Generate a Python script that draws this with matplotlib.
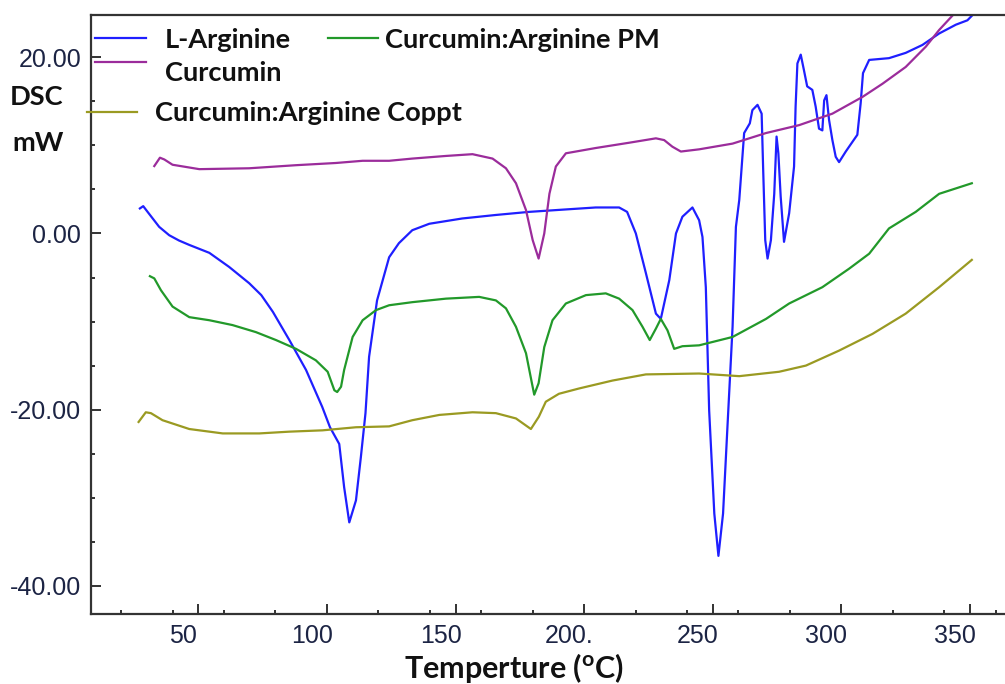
import matplotlib
matplotlib.use("Agg")

import matplotlib.pyplot as plt
import matplotlib.transforms as mtransforms
from matplotlib.lines import Line2D
import numpy as np

# figure size in pixels (dpi 100)
W, H = 1005, 684

# series (temperature in C, heat flow in mW)
arg_t = [27.3, 28.6, 30.3, 34.8, 38.7, 42.5, 46.5, 54.3, 62.0, 69.8, 74.5, 79.0, 85.4, 91.9,
         98.2, 101.2, 104.8, 106.7, 108.7, 111.3, 113.2, 115.0, 116.4, 119.5, 124.2,
         128.0, 133.2, 139.8, 152.6, 165.7, 178.6, 191.5, 204.5, 213.6, 216.7, 220.1,
         224.0, 227.9, 229.8, 233.1, 235.7, 238.2, 242.1, 244.7, 246.0, 247.3, 248.6,
         250.6, 252.2, 254.0, 255.7, 257.7, 259.0, 260.3, 262.2, 264.4, 265.4, 267.4,
         269.0, 269.6, 270.4, 271.3, 272.6, 273.9, 274.8, 275.5, 276.4, 277.7, 279.7,
         281.6, 282.2, 282.9, 284.2, 285.4, 286.7, 288.7, 290.0, 291.3, 292.6, 293.3,
         294.2, 295.2, 296.5, 297.8, 299.1, 301.7, 304.3, 306.2, 307.5, 308.4, 310.8,
         318.5, 325.0, 331.5, 338.0, 344.5, 349.0, 351.0]
arg_y = [2.84, 3.1, 2.45, 0.75, -0.2, -0.8, -1.3, -2.2, -3.8, -5.65, -7.0, -8.9, -12.1, -15.5,
         -19.7, -22.0, -23.9, -28.8, -32.8, -30.3, -25.4, -20.4, -14.0, -7.6, -2.7,
         -1.1, 0.37, 1.1, 1.7, 2.1, 2.45, 2.7, 2.95, 2.95, 2.45, 0.0,
         -4.5, -9.1, -9.7, -5.3, 0.0, 1.9, 2.95, 1.5, -0.4, -6.1, -20.1,
         -31.8, -36.6, -31.8, -22.0, -10.6, 0.75, 3.8, 11.4, 12.5, 14.0, 14.6,
         13.6, 7.2, -0.76, -2.85, -0.76, 4.5, 11.0, 9.1, 4.2, -0.95, 2.3,
         7.6, 14.4, 19.3, 20.3, 18.6, 16.7, 16.3, 14.4, 11.9, 11.7, 15.1,
         15.7, 12.9, 10.6, 8.7, 8.1, 9.3, 10.4, 11.2, 14.8, 18.2, 19.7,
         19.9, 20.5, 21.4, 22.7, 23.7, 24.2, 24.8]

cur_t = [32.9, 35.1, 36.8, 40.0, 50.4, 69.8, 88.0, 103.5, 113.9, 124.2, 133.2, 146.3,
         156.6, 164.4, 169.6, 173.5, 177.4, 180.0, 182.3, 184.5, 186.5, 189.0, 192.9,
         204.5, 217.5, 227.9, 231.1, 234.3, 237.6, 244.7, 257.7, 270.7, 283.6, 296.5,
         308.2, 316.0, 325.0, 332.8, 338.0, 343.4, 345.0]
cur_y = [7.65, 8.6, 8.4, 7.8, 7.3, 7.4, 7.75, 8.0, 8.25, 8.25, 8.5, 8.8,
         9.0, 8.5, 7.4, 5.7, 2.65, -0.76, -2.85, 0.0, 4.5, 7.6, 9.1,
         9.7, 10.3, 10.8, 10.6, 9.85, 9.3, 9.55, 10.2, 11.4, 12.3, 13.6,
         15.5, 17.0, 18.9, 21.2, 23.1, 24.8, 25.4]

pm_t = [31.2, 32.9, 35.5, 40.0, 46.5, 54.3, 63.3, 72.4, 80.2, 88.0, 95.7, 100.3, 102.9,
        104.0, 105.5, 106.7, 110.0, 113.9, 119.1, 124.2, 133.2, 146.3, 159.2, 165.7,
        169.6, 173.5, 177.4, 179.7, 180.6, 182.3, 184.5, 187.7, 192.9, 200.7, 208.4,
        213.6, 218.8, 222.7, 225.5, 227.9, 229.8, 232.4, 235.0, 238.2, 244.7, 257.7,
        270.7, 279.7, 292.6, 303.0, 310.8, 318.5, 328.9, 338.0, 350.7]
pm_y = [-4.85, -5.1, -6.45, -8.3, -9.5, -9.85, -10.4, -11.2, -12.1, -13.1, -14.4, -15.7, -17.8,
        -18.0, -17.4, -15.5, -11.75, -9.85, -8.7, -8.15, -7.8, -7.4, -7.2, -7.6,
        -8.5, -10.6, -13.6, -17.0, -18.3, -17.0, -12.9, -9.85, -7.95, -7.0, -6.8,
        -7.4, -8.7, -10.6, -12.1, -10.8, -9.7, -11.0, -13.1, -12.8, -12.7, -11.75,
        -9.7, -7.95, -6.1, -4.0, -2.3, 0.57, 2.45, 4.5, 5.7]

cop_t = [26.8, 29.6, 31.6, 36.1, 46.5, 59.5, 73.7, 85.4, 98.3, 111.3, 124.2, 133.2,
         143.7, 156.6, 165.7, 173.5, 179.3, 182.4, 185.1, 190.2, 198.0, 211.0, 224.0,
         244.7, 260.3, 275.8, 286.2, 299.1, 312.1, 325.0, 338.0, 350.7]
cop_y = [-21.4, -20.3, -20.4, -21.2, -22.2, -22.7, -22.7, -22.5, -22.35, -22.0, -21.9, -21.2,
         -20.6, -20.3, -20.4, -21.0, -22.2, -20.8, -19.1, -18.2, -17.6, -16.7, -16.0,
         -15.9, -16.2, -15.7, -15.0, -13.3, -11.4, -9.1, -6.1, -3.0]

x_ticks = [50, 100, 150, 200, 250, 300, 350]
x_tick_labels = ["50", "100", "150", "200.", "250", "300", "350"]
y_ticks = [-40, -20, 0, 20]
y_tick_labels = ["-40.00", "-20.00", "0.00", "20.00"]

series_names = ["L-Arginine", "Curcumin", "Curcumin:Arginine PM", "Curcumin:Arginine Coppt"]
colors = ["#1f1fff", "#9b2c9b", "#22992a", "#9a9a22"]

BOLD_FONT = ["Lato", "DejaVu Sans"]
TICK_FONT = ["Liberation Sans Narrow", "Liberation Sans", "DejaVu Sans"]


def px(x, y):
    "convert picture pixels to figure fraction"
    return x / W, 1 - y / H


plt.rcParams["mathtext.fontset"] = "custom"
plt.rcParams["mathtext.bf"] = "Lato:bold"
plt.rcParams["mathtext.rm"] = "Lato:bold"

fig = plt.figure(figsize=(W / 100, H / 100), dpi=100)
ax = fig.add_axes([91 / W, 1 - 614 / H, 1 - 91 / W + 0.02, (614 - 15) / H])

for t, y, c in zip([arg_t, cur_t, pm_t, cop_t], [arg_y, cur_y, pm_y, cop_y], colors):
    ax.plot(t, y, color=c, lw=1.6, solid_joinstyle="round")

ax.set_xlim(8.3, 363.6 + 0.02 * W / 2.572)
ax.set_ylim(-43.2, 24.8)

ax.set_xticks(x_ticks)
ax.set_xticklabels(x_tick_labels)
ax.set_xticks(np.arange(20, 361, 20), minor=True)
ax.set_yticks(y_ticks)
ax.set_yticklabels(y_tick_labels)
ax.set_yticks(np.arange(-40, 25, 5), minor=True)

ax.tick_params(which="both", direction="in", color="#222222", width=1.3)
ax.tick_params(which="major", length=7, pad=7, labelsize=18, labelcolor="#1c2444")
ax.tick_params(which="minor", length=3)
for lab in ax.get_xticklabels() + ax.get_yticklabels():
    lab.set_family(TICK_FONT)

# tick labels in the reference sit a little left of their ticks
offset = mtransforms.ScaledTranslation(-15 / 100, 0, fig.dpi_scale_trans)
for lab in ax.get_xticklabels():
    lab.set_transform(lab.get_transform() + offset)

for side in ["left", "bottom", "top"]:
    ax.spines[side].set_color("#333333")
    ax.spines[side].set_linewidth(1.6)
ax.spines["right"].set_visible(False)

# legend drawn by hand, the entries are scattered like in the reference
legend_pos = [(95, 146, 38, 165, 40), (95, 146, 62, 165, 73),
              (328, 378, 38, 385, 40), (87, 137, 112, 155, 113)]
for name, c, (x0, x1, yl, xt, yt) in zip(series_names, colors, legend_pos):
    (a0, b0), (a1, b1) = px(x0, yl), px(x1, yl)
    fig.add_artist(Line2D([a0, a1], [b0, b1], color=c, lw=1.6))
    fx, fy = px(xt, yt)
    fig.text(fx, fy, name, family=BOLD_FONT, fontweight="bold", fontsize=19.6,
             va="center", ha="left", color="#111111")

fig.text(*px(10, 97), "DSC", family=BOLD_FONT, fontweight="bold", fontsize=19.6,
         va="center", ha="left", color="#111111")
fig.text(*px(12, 143), "mW", family=BOLD_FONT, fontweight="bold", fontsize=19.6,
         va="center", ha="left", color="#111111")

fig.text(*px(514, 668), r"Temperture ($^{\mathrm{o}}$C)", family=BOLD_FONT,
         fontweight="bold", fontsize=22, va="center", ha="center", color="#111111")

fig.savefig("out.png", dpi=100)
